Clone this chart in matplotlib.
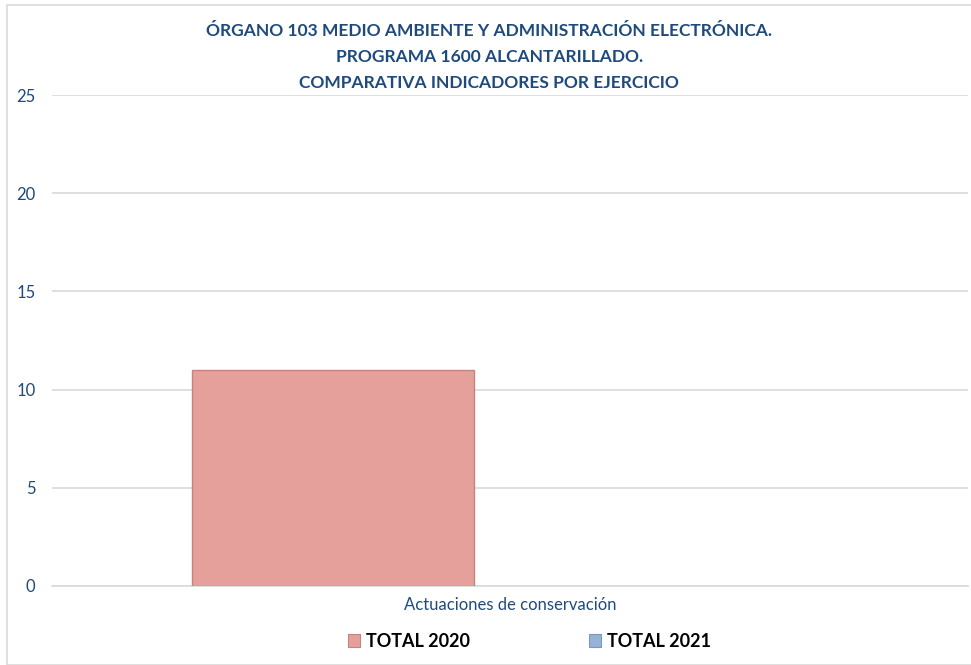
# Excel-style single-category comparison bar chart (TOTAL 2020 vs TOTAL 2021)
import matplotlib.pyplot as plt
from matplotlib.patches import Rectangle, Patch
import numpy as np

# ---- Data ----
CATEGORIES = ["Actuaciones de conservación"]
SERIES = ["TOTAL 2020", "TOTAL 2021"]
TOTAL_2020 = [11]
TOTAL_2021 = [0]
Y_TICKS = [0, 5, 10, 15, 20, 25]
TITLE = ("ÓRGANO 103 MEDIO AMBIENTE Y ADMINISTRACIÓN ELECTRÓNICA.\n"
         "PROGRAMA 1600 ALCANTARILLADO.\n"
         "COMPARATIVA INDICADORES POR EJERCICIO")

# ---- Colors ----
BAR_COLORS = ["#E6A09C", "#95B3D7"]
EDGE_COLORS = ["#C4837F", "#7A98BD"]
TEXT_BLUE = "#1F4A7E"
GRID = "#D9D9D9"

plt.rcParams["font.family"] = ["Lato", "DejaVu Sans"]

fig = plt.figure(figsize=(9.71, 6.65), dpi=100)
ax = fig.add_axes([0.0536, 0.1188, 0.9434, 0.7383])

x = np.arange(len(CATEGORIES))
w = 0.308
off = 0.193
for vals, col, ec, sign, name in zip([TOTAL_2020, TOTAL_2021], BAR_COLORS, EDGE_COLORS, [-1, 1], SERIES):
    lw = [1.0 if v > 0 else 0.0 for v in vals]
    ax.bar(x + sign * off, vals, width=w, color=col, edgecolor=ec, linewidth=lw, label=name, zorder=3)

ax.set_xlim(-0.5, 0.5)
ax.set_ylim(0, 25)
ax.set_yticks(Y_TICKS)
ax.set_xticks(x)
ax.set_xticklabels(CATEGORIES)
ax.tick_params(axis="y", length=0, pad=12, labelsize=12, labelcolor=TEXT_BLUE)
ax.tick_params(axis="x", length=0, pad=8, labelsize=12, labelcolor=TEXT_BLUE)
for s in ["left", "right", "top"]:
    ax.spines[s].set_visible(False)
ax.spines["bottom"].set_color(GRID)
ax.spines["bottom"].set_linewidth(1.2)
ax.grid(axis="y", color=GRID, linewidth=1.2, zorder=0)
ax.set_axisbelow(True)

fig.text(0.504, 0.966, TITLE, ha="center", va="top", fontsize=12.5, fontweight="bold",
         color=TEXT_BLUE, linespacing=1.78)

handles = [Patch(facecolor=c, edgecolor=e, linewidth=0.8) for c, e in zip(BAR_COLORS, EDGE_COLORS)]
leg = fig.legend(handles, SERIES, loc="center", bbox_to_anchor=(0.545, 0.036), ncol=2,
                 frameon=False, handlelength=0.7, handleheight=0.7, handletextpad=0.3,
                 columnspacing=6.6, prop=dict(weight="bold", size=13))

# outer chart border
fig.patches.append(Rectangle((0.007, 0.0), 1.2, 0.992, transform=fig.transFigure,
                             fill=False, edgecolor="#D9D9D9", linewidth=1.2))

fig.savefig("out.png", dpi=100)
